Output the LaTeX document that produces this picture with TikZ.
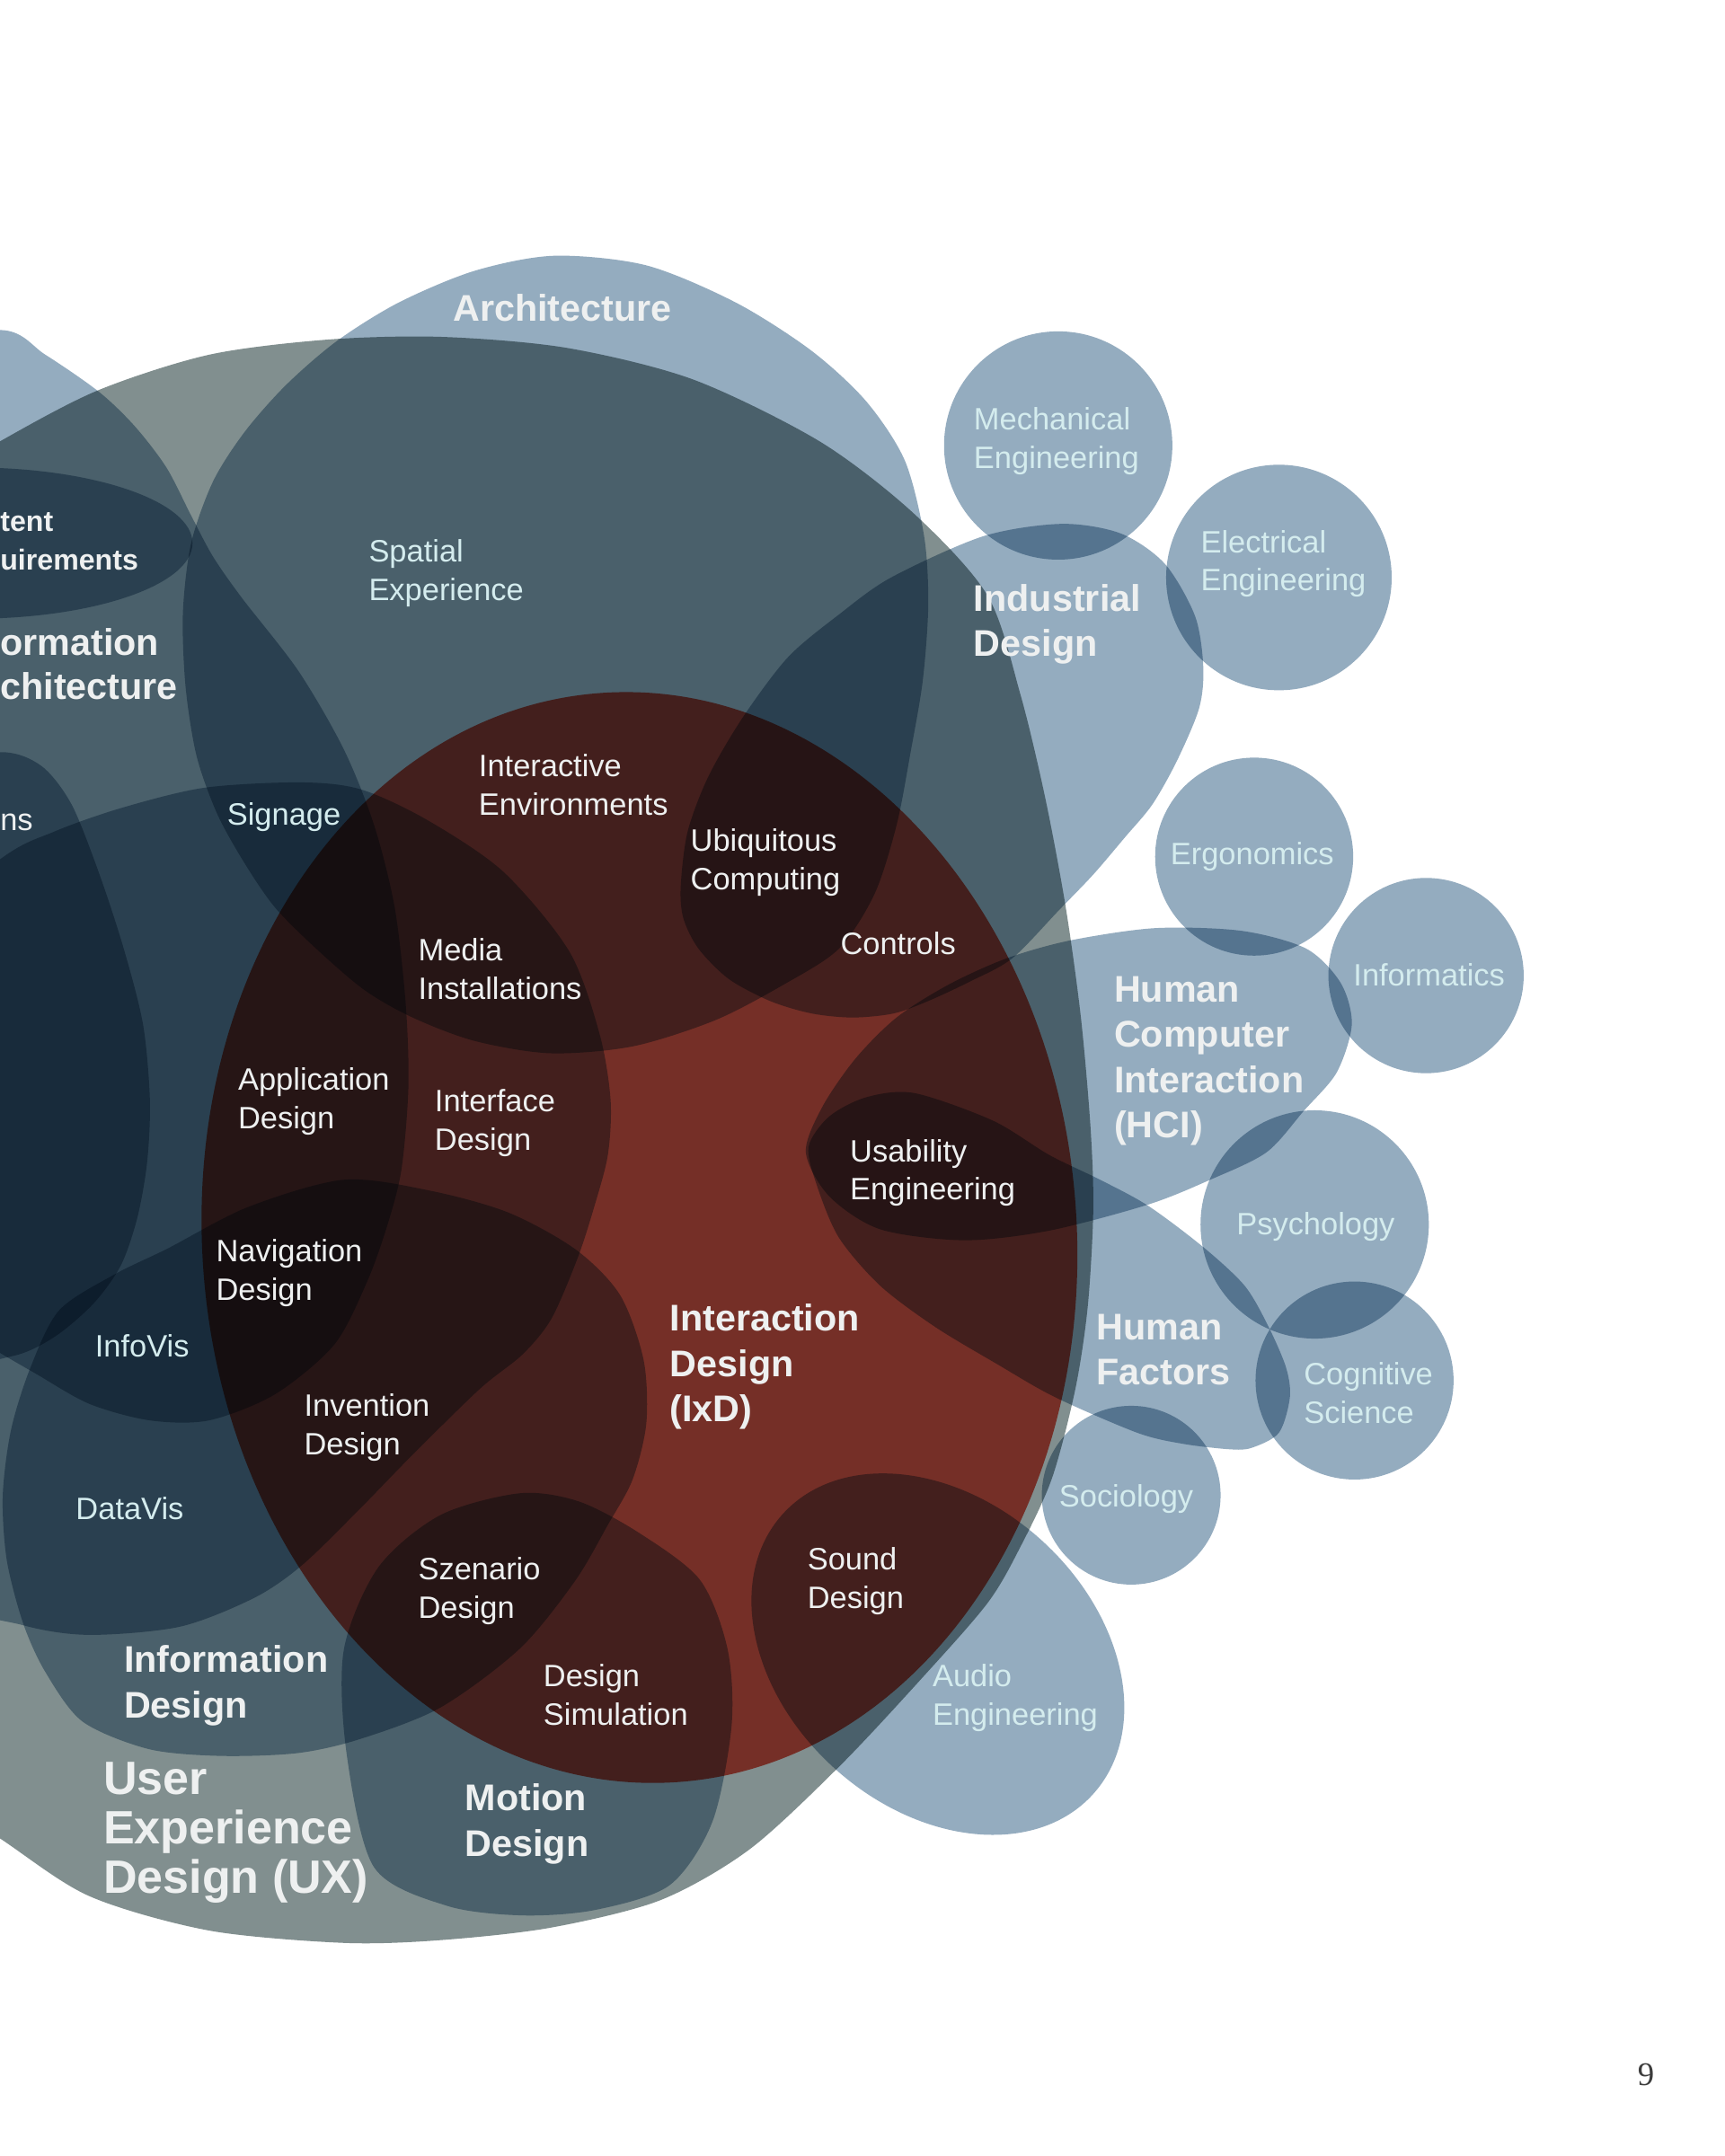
\documentclass[tikz,border=0pt]{standalone}
\usepackage{fontspec}
\setmainfont{Liberation Sans}
\newfontfamily\pagenumfont{Liberation Serif}
\definecolor{bl}{RGB}{148,172,191}
\definecolor{uxc}{RGB}{129,143,143}
\definecolor{ixc}{RGB}{233,84,70}
\definecolor{wt}{RGB}{238,240,240}
\definecolor{lt}{RGB}{212,236,238}
\definecolor{pn}{RGB}{60,60,60}
\begin{document}
\begin{tikzpicture}[x=1pt,y=-1pt,
  mult/.style={blend mode=multiply},
  bshape/.style={fill=bl,mult},
  lbl/.style={inner sep=0pt,anchor=west,align=left,text=wt,font=\fontsize{22.5}{28}\selectfont},
  lbllt/.style={lbl,text=lt},
  big/.style={inner sep=0pt,anchor=west,align=left,text=wt,font=\bfseries\fontsize{27}{33}\selectfont},
]
\useasboundingbox (0,0) rectangle (1254.4,1568);
\fill[white] (0,0) rectangle (1254.4,1568);

% User Experience Design
\fill[fill=uxc,mult] plot[smooth cycle] coordinates {(-150,430) (-60,358) (0,321) (71,284) (152,258) (238,247) (321,245) (412,253) (504,276) (596,321) (664,373) (718,433) (742,505) (760,580) (775,660) (786,740) (793,820) (795,880) (791,950) (782,1010) (765,1075) (742,1125) (718,1166) (669,1222) (610,1285) (545,1345) (480,1382) (400,1402) (320,1411) (250,1413) (152,1404) (65,1379) (0,1337) (-70,1290) (-160,1160) (-230,950) (-240,700)};

% Architecture
\fill[bshape] plot[smooth cycle] coordinates {(403,186) (470,193) (535,220) (590,255) (630,292) (658,335) (672,390) (675,440) (671,495) (662,548) (652,600) (636,650) (610,690) (570,716) (520,742) (460,761) (400,766) (345,757) (300,740) (265,720) (230,690) (200,660) (178,628) (158,592) (143,550) (135,500) (133,446) (139,395) (155,350) (178,314) (208,280) (245,248) (290,220) (345,197)};

% Information Architecture
\fill[bshape] plot[smooth cycle] coordinates {(-250,500) (-190,330) (-90,255) (0,240) (33,258) (72,285) (98,310) (121,340) (139,375) (155,405) (176,435) (217,488) (250,545) (272,600) (287,660) (295,730) (297,790) (292,850) (282,890) (267,932) (243,978) (200,1014) (152,1033) (109,1033) (65,1021) (26,999) (-10,978) (-90,930) (-200,800)};

% Content Requirements
\fill[bshape] (-20,395) ellipse [x radius=160, y radius=55];

% left circle
\fill[bshape] plot[smooth cycle] coordinates {(-180,780) (-150,630) (-60,558) (0,547) (30,557) (52,585) (72,635) (90,690) (104,745) (109,800) (107,845) (100,885) (88,920) (68,948) (40,972) (10,986) (-40,990) (-120,950)};

% large middle-left shape
\fill[bshape] plot[smooth cycle] coordinates {(-130,900) (-90,700) (0,625) (39,605) (87,588) (148,573) (218,569) (262,574) (310,596) (366,634) (414,692) (436,752) (444,800) (442,840) (432,878) (420,915) (401,959) (380,985) (349,1010) (300,1058) (262,1097) (220,1138) (185,1162) (131,1183) (65,1189) (17,1182) (-40,1160) (-110,1060)};

% Information Design
\fill[bshape] plot[smooth cycle] coordinates {(250,858) (313,866) (370,882) (419,909) (451,942) (468,989) (470,1035) (460,1076) (442,1109) (418,1150) (378,1199) (320,1242) (261,1265) (216,1275) (160,1277) (108,1272) (60,1252) (33,1216) (17,1181) (5,1135) (2,1088) (8,1040) (22,995) (43,953) (83,927) (122,908) (180,878)};

% Motion Design
\fill[bshape] plot[smooth cycle] coordinates {(250,1200) (252,1275) (272,1358) (325,1386) (380,1393) (433,1389) (487,1371) (518,1325) (532,1255) (529,1199) (509,1149) (465,1115) (421,1092) (378,1086) (320,1102) (275,1140)};

% Interaction Design (inside UX)
\begin{scope}
\clip plot[smooth cycle] coordinates {(-150,430) (-60,358) (0,321) (71,284) (152,258) (238,247) (321,245) (412,253) (504,276) (596,321) (664,373) (718,433) (742,505) (760,580) (775,660) (786,740) (793,820) (795,880) (791,950) (782,1010) (765,1075) (742,1125) (718,1166) (669,1222) (610,1285) (545,1345) (480,1382) (400,1402) (320,1411) (250,1413) (152,1404) (65,1379) (0,1337) (-70,1290) (-160,1160) (-230,950) (-240,700)};
\fill[fill=ixc,mult,rotate around={4:(465,900)}] (465,900) ellipse [x radius=318, y radius=397];
\end{scope}

% Industrial Design
\fill[bshape] plot[smooth cycle] coordinates {(495,645) (500,605) (515,565) (540,522) (573,478) (610,447) (648,420) (715,390) (772,381) (815,388) (847,410) (869,448) (875,485) (872,515) (856,553) (838,585) (818,609) (795,636) (770,662) (736,697) (705,714) (675,728) (650,737) (620,740) (590,737) (560,728) (530,712) (508,690) (497,668)};

% HCI
\fill[bshape] plot[smooth cycle] coordinates {(586,838) (598,805) (622,770) (652,740) (690,716) (732,697) (778,684) (840,675) (903,677) (950,690) (975,715) (983,745) (972,780) (948,808) (921,838) (880,858) (835,876) (763,895) (701,902) (640,894) (603,870)};

% Human Factors
\fill[bshape] plot[smooth cycle] coordinates {(588,834) (603,812) (630,798) (665,795) (722,815) (763,840) (800,858) (835,877) (875,907) (905,935) (922,964) (935,994) (938,1016) (930,1042) (910,1053) (894,1054) (860,1050) (827,1042) (767,1016) (725,992) (680,965) (640,935) (610,900) (594,862)};

% Audio Engineering
\fill[bshape,rotate around={-42:(682,1203)}] (682,1203) ellipse [x radius=152, y radius=112];

% small circles
\fill[bshape] (769.5,324) circle [radius=83];
\fill[bshape] (930,420) circle [radius=82];
\fill[bshape] (912,623) circle [radius=72];
\fill[bshape] (1037,709.5) circle [radius=71];
\fill[bshape] (956,890.5) circle [radius=83];
\fill[bshape] (985,1004) circle [radius=72];
\fill[bshape] (822.6,1087.4) circle [radius=65];

% labels
\node[big,anchor=center] (arch) at (409,224) {Architecture};
\node[lbllt] (mech) at (708,321) {Mechanical\\Engineering};
\node[lbllt] (elec) at (873,410) {Electrical\\Engineering};
\node[lbllt] (spat) at (268,417) {Spatial\\Experience};
\node[big] (indu) at (708,454) {Industrial\\Design};
\node[lbl,font=\bfseries\fontsize{21}{28}\selectfont] (cont) at (0,394) {tent\\uirements};
\node[big,font=\bfseries\fontsize{27}{32}\selectfont] (infa) at (0,483) {ormation\\chitecture};
\node[lbl] (inte) at (348,571) {Interactive\\Environments};
\node[lbllt] (sign) at (165,594) {Signage};
\node[lbl] (ns) at (0,598) {ns};
\node[lbl] (ubiq) at (502,627) {Ubiquitous\\Computing};
\node[lbl] (ctrl) at (611,686) {Controls};
\node[lbl] (medi) at (304,705) {Media\\Installations};
\node[lbllt] (ergo) at (851,623) {Ergonomics};
\node[lbllt] (info) at (984,709) {Informatics};
\node[big] (hci) at (810,771.5) {Human\\Computer\\Interaction\\(HCI)};
\node[lbl] (appl) at (173,801) {Application\\Design};
\node[lbl] (intf) at (316,817) {Interface\\Design};
\node[lbl] (usab) at (618,853) {Usability\\Engineering};
\node[lbllt] (psy) at (899,892) {Psychology};
\node[lbl] (navi) at (157,926) {Navigation\\Design};
\node[big] (ixd) at (487,994) {Interaction\\Design\\(IxD)};
\node[lbllt] (ivis) at (69,979) {InfoVis};
\node[big] (hf) at (797,981.5) {Human\\Factors};
\node[lbllt] (cogn) at (948,1013) {Cognitive\\Science};
\node[lbl] (inve) at (221,1038) {Invention\\Design};
\node[lbllt] (soci) at (770,1090) {Sociology};
\node[lbllt] (dvis) at (55,1097) {DataVis};
\node[lbl] (soun) at (587,1150) {Sound\\Design};
\node[lbl] (szen) at (304,1157) {Szenario\\Design};
\node[big] (infd) at (90,1226) {Information\\Design};
\node[lbl] (dsim) at (395,1232.5) {Design\\Simulation};
\node[lbllt] (audi) at (678,1235) {Audio\\Engineering};
\node[big,font=\bfseries\fontsize{34}{36}\selectfont] (ux) at (75,1333) {User\\Experience\\Design (UX)};
\node[big] (moti) at (338,1326.5) {Motion\\Design};
\node[inner sep=0pt,text=pn,font=\pagenumfont\fontsize{24}{28}\selectfont] (page) at (1197,1509) {9};
\end{tikzpicture}
\end{document}
